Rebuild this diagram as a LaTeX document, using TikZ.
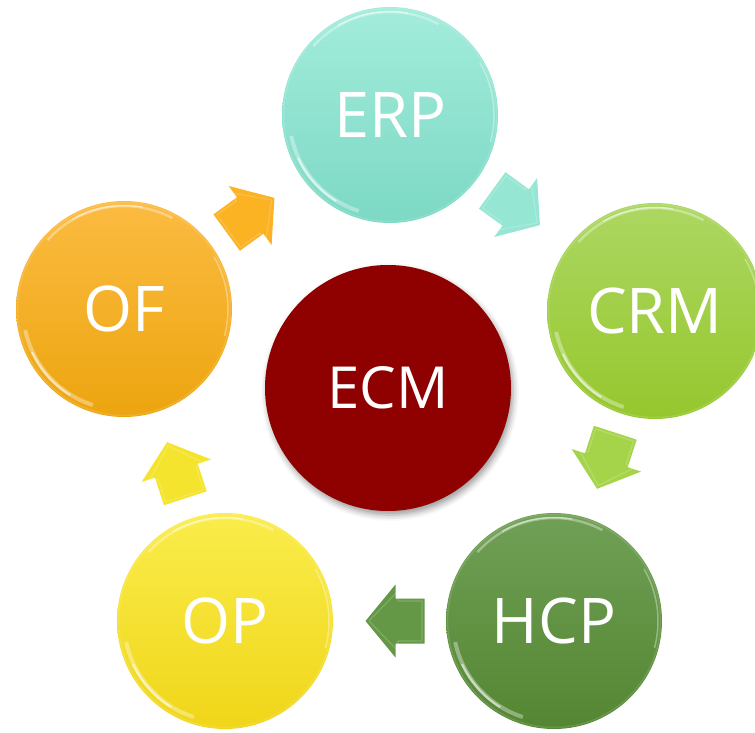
\documentclass[tikz,border=0pt]{standalone}
\usepackage{fontspec}
\setmainfont{Open Sans}
\usetikzlibrary{calc,shadows.blur}
\definecolor{erpTop}{RGB}{163,236,219}
\definecolor{erpBot}{RGB}{124,217,196}
\definecolor{crmTop}{RGB}{172,215,98}
\definecolor{crmBot}{RGB}{150,199,45}
\definecolor{hcpTop}{RGB}{112,160,86}
\definecolor{hcpBot}{RGB}{84,134,50}
\definecolor{opTop}{RGB}{250,236,75}
\definecolor{opBot}{RGB}{240,214,25}
\definecolor{ofTop}{RGB}{252,187,66}
\definecolor{ofBot}{RGB}{236,165,15}
\definecolor{ecmRed}{RGB}{143,0,0}
\definecolor{arTeal}{RGB}{150,230,212}
\definecolor{arGreen}{RGB}{165,212,75}
\definecolor{arDark}{RGB}{100,152,70}
\definecolor{arYellow}{RGB}{245,228,45}
\definecolor{arOrange}{RGB}{251,178,35}
\tikzset{
  ball/.style 2 args={circle,inner sep=0pt,minimum size=216pt,top color=#1,bottom color=#2,
    text=white,font=\fontsize{63}{63}\selectfont},
  pics/blockarrow/.style={code={
    \fill[#1] (-35,-22.5) -- (-6,-22.5) -- (-6,-36.5) -- (24,0) -- (-6,36.5) -- (-6,22.5) -- (-35,22.5) -- cycle;
    \draw[white,opacity=.18,line width=1.2pt,line join=round] (-32.5,-20) -- (-8.5,-20) -- (-8.5,-30) -- (20.5,0) -- (-8.5,30) -- (-8.5,20) -- (-32.5,20) -- cycle;
  }}
}
\newcommand\glossball[1]{%
  \draw[white,opacity=.12,line width=1.5pt] (#1.center) circle[radius=106.5];
  \draw[white,opacity=.35,line width=2.5pt] ($(#1.center)+(62:103)$) arc[start angle=62,end angle=138,radius=103];
  \draw[white,opacity=.45,line width=1.5pt] ($(#1.center)+(80:103.5)$) arc[start angle=80,end angle=120,radius=103.5];
  \draw[white,opacity=.35,line width=4pt] ($(#1.center)+(192:101)$) arc[start angle=192,end angle=252,radius=101];
  \draw[white,opacity=.55,line width=2pt] ($(#1.center)+(205:101.5)$) arc[start angle=205,end angle=238,radius=101.5];
  \draw[white,opacity=.35,line width=1.5pt] ($(#1.center)+(-15:104)$) arc[start angle=-15,end angle=30,radius=104];
}
\begin{document}
\begin{tikzpicture}[x=1pt,y=1pt]
\useasboundingbox (0,0) rectangle (755,732);
\clip (0,0) rectangle (755,732);
% centre
\node[circle,inner sep=0pt,minimum size=246pt,fill=ecmRed,text=white,
  font=\fontsize{58}{58}\selectfont,
  blur shadow={shadow xshift=2pt,shadow yshift=-4pt,shadow blur radius=6pt,shadow opacity=40}]
  (ecm) at (388,344) {ECM};
% outer circles
\node[ball={erpTop}{erpBot}] (erp) at (390,617) {ERP};
\node[ball={crmTop}{crmBot}] (crm) at (655,421) {CRM};
\node[ball={hcpTop}{hcpBot}] (hcp) at (554,111) {HCP};
\node[ball={opTop}{opBot}]   (op)  at (225,111) {OP};
\node[ball={ofTop}{ofBot}]   (of)  at (124,423) {OF};
\foreach \n in {erp,crm,hcp,op,of}{\glossball{\n}}
% block arrows
\pic[rotate=-36]  at ($(erp)!0.5!(crm)+(-2,2)$) {blockarrow=arTeal};
\pic[rotate=-108] at ($(crm)!0.5!(hcp)$) {blockarrow=arGreen};
\pic[rotate=180]  at ($(hcp)!0.5!(op)$)  {blockarrow=arDark};
\pic[rotate=108]  at ($(op)!0.5!(of)$)   {blockarrow=arYellow};
\pic[rotate=36]   at ($(of)!0.5!(erp)+(-2,0)$)  {blockarrow=arOrange};
\end{tikzpicture}
\end{document}
